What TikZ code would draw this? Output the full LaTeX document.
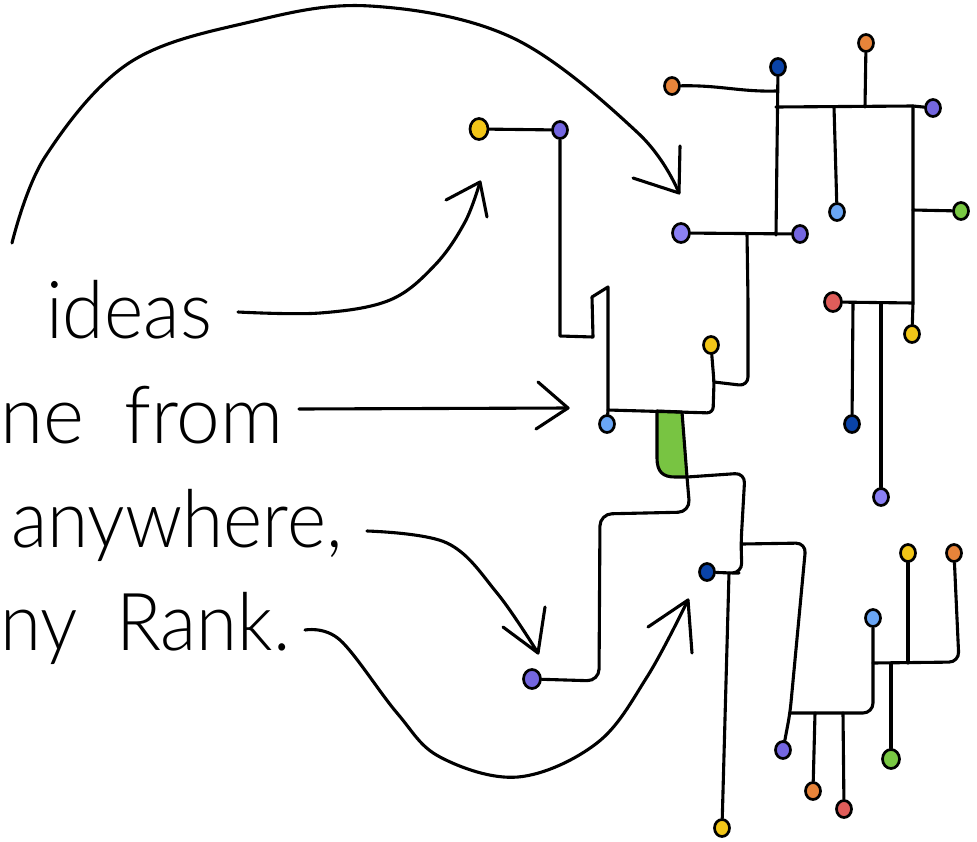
\documentclass[tikz,border=0pt]{standalone}
\usepackage{fontspec}
\IfFontExistsTF{Lato Light}{\newfontfamily\hand[WordSpace=1.9]{Lato Light}}{\newfontfamily\hand[WordSpace=1.9]{Lato}}
\usetikzlibrary{shapes.geometric}
\definecolor{cyel}{HTML}{F2C618}
\definecolor{cpur}{HTML}{7466E0}
\definecolor{clpur}{HTML}{8B80F5}
\definecolor{cora}{HTML}{E8843A}
\definecolor{cdblue}{HTML}{0A43A8}
\definecolor{clblue}{HTML}{6AA6F5}
\definecolor{cgreen}{HTML}{79C843}
\definecolor{cred}{HTML}{E05D5A}
\definecolor{cstem}{HTML}{78C442}
\tikzset{
  wire/.style={line width=3.1pt, line cap=round, line join=round},
  dot/.style={ellipse, draw, line width=2.7pt, inner sep=0pt, minimum width=15pt, minimum height=17pt},
  bigdot/.style={dot, minimum width=17pt, minimum height=19pt},
  hugedot/.style={dot, minimum width=18pt, minimum height=21pt},
  txt/.style={font=\hand\fontsize{80}{80}\selectfont, inner sep=0pt, anchor=base west},
  head/.style={wire}
}
\begin{document}
\begin{tikzpicture}[x=1pt,y=-1pt]
\useasboundingbox (0,0) rectangle (977,841);

% ---------- text ----------
\node[txt] (w1) at (46,338) {\scalebox{0.94}[1]{ideas}};
\node[txt] (w2) at (0,443) {\scalebox{0.98}[1]{ne from}};
\node[txt] (w3) at (11,547) {\scalebox{0.935}[1]{anywhere,}};
\node[txt] (w4) at (0,650) {\scalebox{0.93}[1]{ny Rank.}};

% ---------- dots ----------
\node[hugedot, fill=cyel] (yA) at (479,129) {};
\node[dot, fill=cpur] (pA) at (560,130) {};
\node[dot, fill=clblue] (bA) at (607,424) {};
\node[dot, fill=cyel] (yB) at (711,345) {};
\node[bigdot, fill=clpur] (pB) at (681,233) {};
\node[dot, fill=cpur] (pC) at (800,234) {};
\node[dot, fill=cdblue] (dbA) at (778,67) {};
\node[dot, fill=cora] (oA) at (672,86) {};
\node[dot, fill=cora] (oB) at (866,43) {};
\node[dot, fill=cpur] (pD) at (933,108) {};
\node[dot, fill=clblue] (lbA) at (837,212) {};
\node[dot, fill=cgreen] (gA) at (961,211) {};
\node[dot, fill=cyel] (yC) at (912,334) {};
\node[bigdot, fill=cred] (rA) at (833,302) {};
\node[dot, fill=cdblue] (dbB) at (852,424) {};
\node[dot, fill=clpur] (pE) at (881,497) {};
\node[bigdot, fill=cpur] (pF) at (532,679) {};
\node[dot, fill=cdblue] (dbC) at (707,572) {};
\node[dot, fill=cyel] (yD) at (722,828) {};
\node[dot, fill=cpur] (pG) at (783,750) {};
\node[dot, fill=cora] (oC) at (813,791) {};
\node[dot, fill=cred] (rB) at (844,809) {};
\node[dot, fill=clblue] (lbB) at (873,618) {};
\node[dot, fill=cyel] (yE) at (908,553) {};
\node[dot, fill=cora] (oD) at (954,553) {};
\node[bigdot, fill=cgreen] (gB) at (891,759) {};

% ---------- junctions ----------
\coordinate (jB) at (608,410);
\coordinate (jS1) at (657,411);
\coordinate (jS2) at (682,412);
\coordinate (jS4) at (687,477);
\coordinate (jY) at (713,413);
\coordinate (jYb) at (714,382);
\coordinate (jP) at (747,234);
\coordinate (jD) at (776,235);
\coordinate (jO) at (776,91);
\coordinate (jT1) at (776,107);
\coordinate (jT2) at (913,106);
\coordinate (jT3) at (865,107);
\coordinate (jT4) at (834,107);
\coordinate (jR1) at (913,210);
\coordinate (jR2) at (913,303);
\coordinate (jR3) at (853,303);
\coordinate (jR4) at (881,303);
\coordinate (jK) at (729,573);
\coordinate (jL) at (742,544);
\coordinate (jN) at (790,713);
\coordinate (jN1) at (815,713);
\coordinate (jN2) at (843,713);
\coordinate (jQ) at (873,663);
\coordinate (jQ1) at (891,663);
\coordinate (jQ2) at (908,663);

% ---------- green stem ----------
\filldraw[wire, fill=cstem] (jS1) -- (657,458) .. controls (657,472) and (663,477) .. (675,477) -- (jS4) -- (jS2) -- cycle;

% ---------- wires, left/top part ----------
\draw[wire] (yA) -- (pA);
\draw[wire] (pA) -- (560,336) -- (593,337) -- (592,297) -- (608,287) -- (jB) -- (bA);
\draw[wire, rounded corners=6pt] (jB) -- (jY) -- (jYb) -- (yB);
\draw[wire, rounded corners=9pt] (jYb) -- (748,386) -- (748,300) -- (jP);
\draw[wire] (pB) -- (pC);
\draw[wire] (jD) -- (dbA);
\draw[wire] (oA) .. controls (720,85) and (740,92) .. (jO);
\draw[wire] (jT1) -- (jT2) -- (pD);
\draw[wire] (oB) -- (jT3);
\draw[wire] (jT4) -- (lbA);
\draw[wire] (jT2) -- (jR2) -- (yC);
\draw[wire] (jR1) -- (gA);
\draw[wire] (rA) -- (jR2);
\draw[wire] (jR3) -- (dbB);
\draw[wire] (jR4) -- (pE);

% ---------- wires, lower part ----------
\draw[wire, rounded corners=12pt] (jS4) -- (690,512) -- (600,514) -- (599,681) -- (pF);
\draw[wire, rounded corners=10pt] (jS4) -- (745,473) -- (741,543) -- (742,573) -- (jK) -- (dbC);
\draw[wire] (jK) -- (yD);
\draw[wire, rounded corners=10pt] (jL) -- (806,543) -- (jN) -- (pG);
\draw[wire, rounded corners=10pt] (jN) -- (873,713) -- (jQ) -- (lbB);
\draw[wire] (jN1) -- (oC);
\draw[wire] (jN2) -- (rB);
\draw[wire, rounded corners=10pt] (jQ) -- (959,662) -- (oD);
\draw[wire] (jQ2) -- (yE);
\draw[wire] (jQ1) -- (gB);

% ---------- arrows ----------
\coordinate (s0) at (12,243);
\coordinate (e0) at (679,193);
\draw[wire] plot[smooth, tension=0.6] coordinates {(s0) (45,157) (129,63) (250,22) (370,6) (513,38) (638,133) (e0)};
\draw[head] (e0) ++(-46,-15) -- (e0) -- ++(1,-47);

\coordinate (s1) at (238,312);
\coordinate (e1) at (480,182);
\draw[wire] plot[smooth, tension=0.6] coordinates {(s1) (320,313) (390,300) (435,265) (465,222) (e1)};
\draw[head] (e1) ++(-34,18) -- (e1) -- ++(7,35);

\coordinate (s2) at (299,409);
\coordinate (e2) at (568,408);
\draw[wire] (s2) -- (e2);
\draw[head] (e2) ++(-30,-26) -- (e2) -- ++(-32,21);

\coordinate (s3) at (367,531);
\coordinate (e3) at (538,653);
\draw[wire] plot[smooth, tension=0.6] coordinates {(s3) (447,543) (497,593) (e3)};
\draw[head] (e3) ++(-35,-26) -- (e3) -- ++(7,-46);

\coordinate (s4) at (305,630);
\coordinate (e4) at (688,600);
\draw[wire] plot[smooth, tension=0.6] coordinates {(s4) (340,640) (397,713) (440,757) (518,777) (597,743) (647,677) (e4)};
\draw[head] (e4) ++(-40,27) -- (e4) -- ++(4,53);
\end{tikzpicture}
\end{document}
